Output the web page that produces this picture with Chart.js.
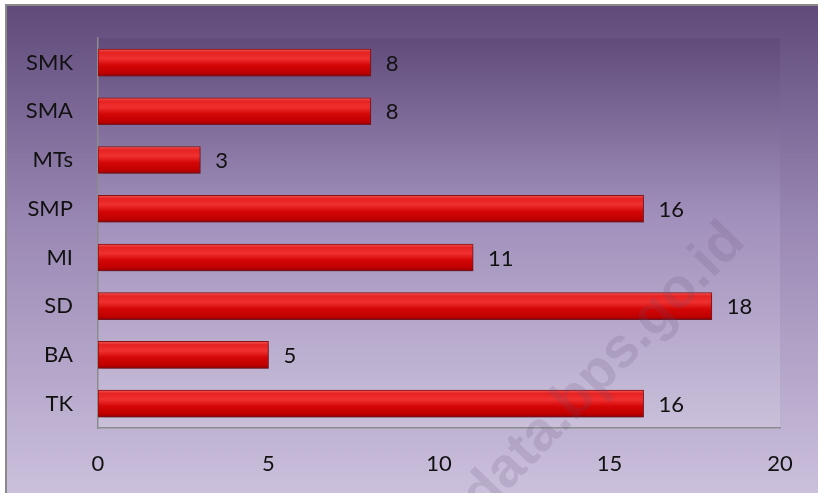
<!DOCTYPE html>
<html>
<head>
<meta charset="utf-8">
<script src="https://cdn.jsdelivr.net/npm/chart.js@4/dist/chart.umd.min.js"></script>
<style>
html,body{margin:0;padding:0;background:#fff;}
#wrap{width:818px;height:493px;position:relative;}
</style>
</head>
<body>
<div id="wrap"><canvas id="c" width="818" height="493"></canvas></div>
<script>
const categories = ["SMK", "SMA", "MTs", "SMP", "MI", "SD", "BA", "TK"];
const values = [8, 8, 3, 16, 11, 18, 5, 16];
const xTicks = [0, 5, 10, 15, 20];
const watermark = "data.bps.go.id";

const FONT = "Lato, 'Open Sans', sans-serif";
const FSIZE = 22;

const bgPlugin = {
  id: 'bg',
  beforeDraw(chart) {
    const ctx = chart.ctx, W = chart.width, H = chart.height, a = chart.chartArea;
    ctx.save();
    ctx.fillStyle = '#ffffff';
    ctx.fillRect(0, 0, W, H);
    let g = ctx.createLinearGradient(0, 5, 0, H);
    g.addColorStop(0, '#5f4a7a');
    g.addColorStop(0.45, '#9a88b4');
    g.addColorStop(1, '#cbc0dc');
    ctx.fillStyle = g;
    ctx.fillRect(6, 6, W - 6, H - 6);
    g = ctx.createLinearGradient(0, a.top, 0, a.bottom);
    g.addColorStop(0, '#604b7a');
    g.addColorStop(0.45, '#a08fbb');
    g.addColorStop(1, '#cac0da');
    ctx.fillStyle = g;
    ctx.fillRect(a.left, a.top, a.right - a.left, a.bottom - a.top);
    ctx.strokeStyle = '#8a8a8a';
    ctx.lineWidth = 2;
    ctx.beginPath();
    ctx.moveTo(6, H);
    ctx.lineTo(6, 5);
    ctx.lineTo(W, 5);
    ctx.stroke();
    ctx.restore();
  },
  beforeDatasetsDraw(chart) {
    const ctx = chart.ctx;
    ctx.save();
    ctx.shadowColor = 'rgba(60,40,70,0.45)';
    ctx.shadowBlur = 5;
    ctx.shadowOffsetX = 2;
    ctx.shadowOffsetY = 4;
  },
  afterDatasetsDraw(chart) {
    const ctx = chart.ctx;
    ctx.restore();
    ctx.save();
    ctx.font = FSIZE + 'px ' + FONT;
    ctx.fillStyle = '#111';
    ctx.textAlign = 'left';
    ctx.textBaseline = 'middle';
    const meta = chart.getDatasetMeta(0);
    meta.data.forEach((bar, i) => {
      ctx.fillText(String(values[i]), bar.x + 15, bar.y + 1);
    });
    ctx.restore();
  },
  afterDraw(chart) {
    const ctx = chart.ctx;
    ctx.save();
    ctx.translate(604, 369);
    ctx.rotate(-46 * Math.PI / 180);
    ctx.font = 'bold 56px "Liberation Sans", Arial, sans-serif';
    ctx.fillStyle = 'rgba(100,80,120,0.17)';
    ctx.textAlign = 'center';
    ctx.textBaseline = 'middle';
    ctx.fillText(watermark, 0, 0);
    ctx.restore();
  }
};

function barGradient(context) {
  const chart = context.chart;
  const ys = chart.scales.y;
  if (!ys || context.dataIndex === undefined) return '#d40000';
  const cy = ys.getPixelForValue(context.dataIndex);
  if (!isFinite(cy)) return '#d40000';
  const h = 27;
  const g = chart.ctx.createLinearGradient(0, cy - h / 2, 0, cy + h / 2);
  g.addColorStop(0, '#f25a5a');
  g.addColorStop(0.12, '#e62222');
  g.addColorStop(0.35, '#f03030');
  g.addColorStop(0.6, '#d40606');
  g.addColorStop(0.88, '#c00000');
  g.addColorStop(1, '#8e0000');
  return g;
}

new Chart(document.getElementById('c'), {
  type: 'bar',
  data: {
    labels: categories,
    datasets: [{
      data: values,
      backgroundColor: barGradient,
      borderColor: '#8a1010',
      borderWidth: 1,
      borderSkipped: false,
      barThickness: 27
    }]
  },
  options: {
    indexAxis: 'y',
    responsive: false,
    animation: false,
    devicePixelRatio: 1,
    layout: { padding: { top: 34, right: 38, left: 0, bottom: 0 } },
    plugins: { legend: { display: false }, tooltip: { enabled: false } },
    scales: {
      x: {
        min: 0, max: 20,
        afterBuildTicks(s) { s.ticks = xTicks.map(v => ({ value: v })); },
        afterFit(s) { s.height = 65; },
        grid: { display: false, drawTicks: false },
        border: { display: true, color: '#8c8c8c', width: 1.5 },
        ticks: { color: '#111', font: { size: FSIZE, family: FONT }, padding: 23 }
      },
      y: {
        afterFit(s) { s.width = 98; },
        grid: { display: false, drawTicks: false },
        border: { display: true, color: '#8c8c8c', width: 1.5 },
        ticks: { color: '#111', font: { size: FSIZE, family: FONT }, padding: 25 }
      }
    }
  },
  plugins: [bgPlugin]
});
</script>
</body>
</html>
